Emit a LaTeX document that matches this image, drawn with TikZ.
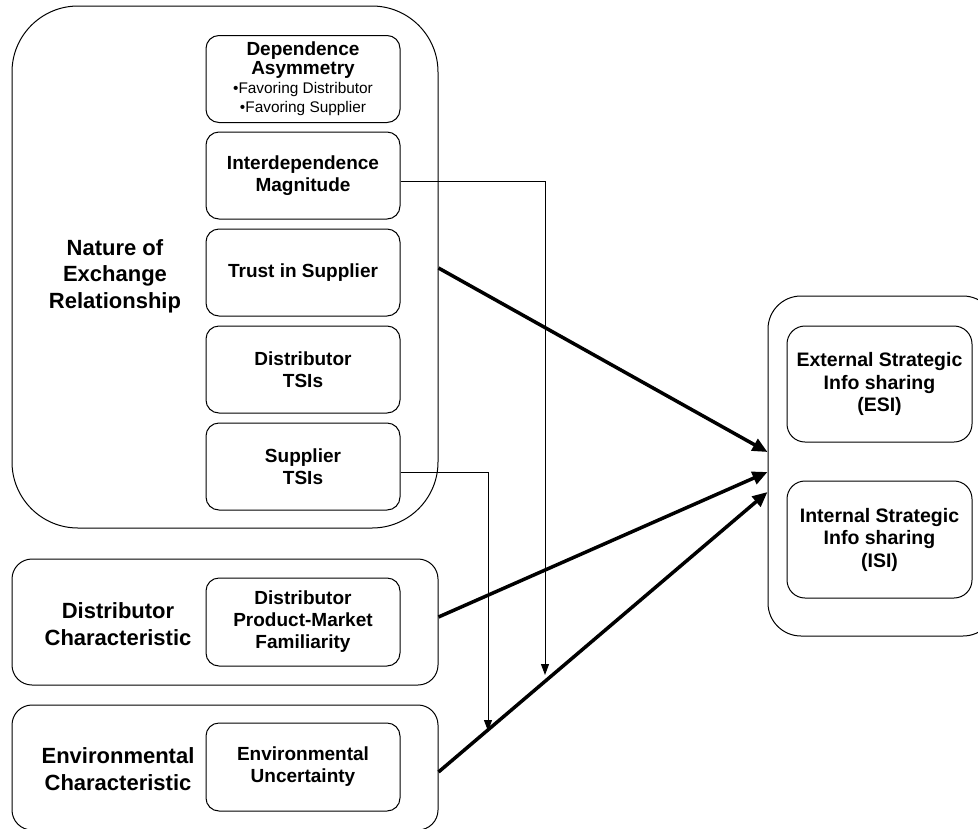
\documentclass[tikz,border=0pt]{standalone}
\usepackage{fontspec}
\setmainfont{Liberation Sans}
\usetikzlibrary{arrows.meta}
\newcommand{\bulletline}[1]{{\mdseries\fontsize{15.4}{19}\selectfont\textbullet #1}}
\tikzset{
  bigbox/.style={draw, line width=1pt, rounded corners=#1, inner sep=0pt},
  inbox/.style={draw, line width=1pt, rounded corners=13pt, minimum width=194pt, minimum height=87pt, inner sep=0pt, align=center, font=\bfseries\fontsize{19}{22}\selectfont},
  outbox/.style={draw, line width=1pt, rounded corners=18pt, minimum width=185pt, minimum height=116pt, inner sep=0pt, align=center, font=\bfseries\fontsize{19.5}{22.5}\selectfont},
  biglabel/.style={align=center, inner sep=0pt, font=\bfseries\fontsize{22}{26.5}\selectfont},
  thinarrow/.style={line width=1pt, -{Triangle[length=11pt,width=8pt]}},
  thickarrow/.style={line width=3.5pt, -{Triangle[length=15pt,width=13pt]}},
}
\begin{document}
\begin{tikzpicture}[x=1pt,y=-1pt]
\useasboundingbox (0,0) rectangle (978,828);
\clip (0,0) rectangle (978,828);
\fill[white] (0,0) rectangle (978,828);

% Nature of exchange relationship
\node[bigbox=66pt, minimum width=426pt, minimum height=522pt] (nature) at (225,267) {};
\node[biglabel] (naturelbl) at (115,276) {Nature of\\Exchange\\Relationship};
\node[inbox, font=\bfseries\fontsize{19}{19}\selectfont] (dep) at (303,79) {Dependence\\Asymmetry\\\bulletline{Favoring Distributor}\\\bulletline{Favoring Supplier}};
\node[inbox] (inter) at (303,175.5) {Interdependence\\Magnitude};
\node[inbox] (trust) at (303,272.5) {Trust in Supplier};
\node[inbox] (dtsi) at (303,369.5) {Distributor\\TSIs};
\node[inbox] (stsi) at (303,466.5) {Supplier\\TSIs};

% Distributor characteristic
\node[bigbox=20pt, minimum width=426pt, minimum height=126pt] (distc) at (225,622) {};
\node[biglabel] (distlbl) at (118,624) {Distributor\\Characteristic};
\node[inbox, minimum height=88pt] (pmf) at (303,622) {Distributor\\Product-Market\\Familiarity};

% Environmental characteristic
\node[bigbox=20pt, minimum width=426pt, minimum height=125pt] (envc) at (225,767.5) {};
\node[biglabel] (envlbl) at (118,769) {Environmental\\Characteristic};
\node[inbox, minimum height=88pt] (envu) at (303,767) {Environmental\\Uncertainty};

% Outcomes
\node[bigbox=33pt, minimum width=228pt, minimum height=340pt] (outc) at (882,466) {};
\node[outbox] (esi) at (879.5,384) {External Strategic\\Info sharing\\(ESI)};
\node[outbox, minimum height=117pt] (isi) at (879.5,539.5) {Internal Strategic\\Info sharing\\(ISI)};

% connector end points
\coordinate (tstart) at (nature.east |- 0,268);
\coordinate (dstart) at (distc.east |- 0,617);
\coordinate (estart) at (envc.east |- 0,772);
\coordinate (tend) at (outc.west |- 0,452);
\coordinate (dend) at (outc.west |- 0,472);
\coordinate (eend) at (outc.west |- 0,492);
\coordinate (imid) at (545,181);
\coordinate (iend) at (545,675);
\coordinate (smid) at (488,472);
\coordinate (send) at (488,731);

\draw[thinarrow] (inter.east |- imid) -- (imid) -- (iend);
\draw[thinarrow] (stsi.east |- smid) -- (smid) -- (send);
\draw[thickarrow] (tstart) -- (tend);
\draw[thickarrow] (dstart) -- (dend);
\draw[thickarrow] (estart) -- (eend);
\end{tikzpicture}
\end{document}
